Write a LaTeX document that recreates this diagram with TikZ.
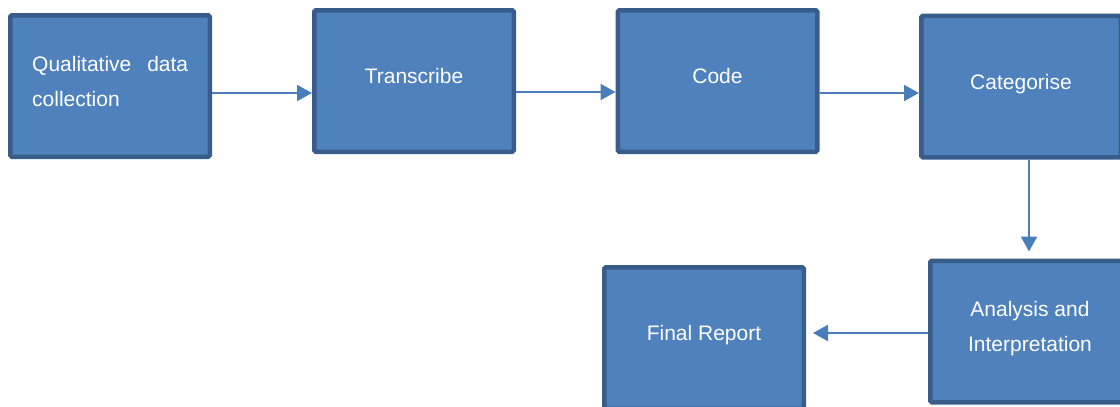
\documentclass[tikz,border=0pt]{standalone}
\usepackage{fontspec}
\setmainfont{Liberation Sans}
\usetikzlibrary{arrows.meta}
\definecolor{boxfill}{HTML}{4F81BD}
\definecolor{boxline}{HTML}{385D8A}
\definecolor{arrowcol}{HTML}{4A7EBB}
\begin{document}
\begin{tikzpicture}[x=1pt,y=-1pt,
  box/.style={draw=boxline, fill=boxfill, line width=4.5pt, rounded corners=1.5pt,
              minimum width=199.5pt, minimum height=141.5pt, inner sep=0pt},
  lab/.style={text=white, font=\fontsize{21}{35}\selectfont, inner sep=0pt, anchor=base},
  arr/.style={draw=arrowcol, line width=2.2pt, -{Triangle[length=15pt,width=16pt]}}]
\useasboundingbox (0,0) rectangle (1120,407);
% boxes
\node[box] (q)   at (110,86)    {};
\node[box] (t)   at (414,81)    {};
\node[box] (c)   at (717.5,81)  {};
\node[box] (cat) at (1021,86.5) {};
\node[box] (an)  at (1030,331.5) {};
\node[box] (fr)  at (704,338)   {};
% labels
\node[lab, anchor=north west, text width=156pt, align=justify] (ql) at (32,55.7)
  {Qualitative data collection};
\node[lab] (tl) at (t.center |- 0,83) {Transcribe};
\node[lab] (cl) at (c.center |- 0,83) {Code};
\node[lab] (catl) at (cat.center |- 0,89) {Categorise};
\node[lab, anchor=center, align=center] (anl) at (an.center |- 0,328.4) {Analysis and\\Interpretation};
\node[lab] (frl) at (fr.center |- 0,340) {Final Report};
% connectors
\draw[arr] (q.east |- 0,93) -- (t.west |- 0,93);
\draw[arr] (t.east |- 0,92) -- (c.west |- 0,92);
\draw[arr] (c.east |- 0,93) -- (cat.west |- 0,93);
\draw[arr, shorten >=7pt] (cat.south -| 1029,0) -- (an.north -| 1029,0);
\draw[arr, shorten >=7pt] (an.west |- 0,333) -- (fr.east |- 0,333);
\end{tikzpicture}
\end{document}
